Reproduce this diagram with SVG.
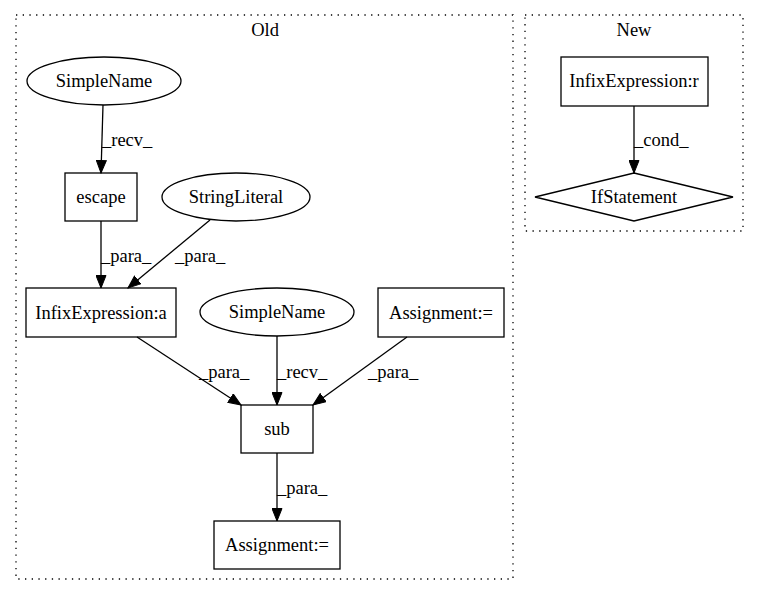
<svg xmlns="http://www.w3.org/2000/svg" width="760" height="596" viewBox="0 0 760 596">
<style>
text{font-family:"Liberation Serif","Times New Roman",serif;font-size:18.5px;fill:#000;text-anchor:middle}
.n{fill:none;stroke:#000;stroke-width:1.3}
.c{fill:none;stroke:#000;stroke-width:1.3;stroke-dasharray:1.3,5.4}
.e{fill:none;stroke:#000;stroke-width:1.3}
.el{text-anchor:start}
</style>
<defs>
<marker id="a" markerWidth="14" markerHeight="11" refX="13" refY="5.5" orient="auto" markerUnits="userSpaceOnUse">
<path d="M0.5,0.5 L13,5.5 L0.5,10.5 z" fill="#000" stroke="#000"/>
</marker>
</defs>
<rect width="760" height="596" fill="#fff"/>
<g id="cluster_old">
<rect class="c" x="16" y="15" width="497" height="564"/>
<text x="265" y="36">Old</text>
</g>
<g id="cluster_new">
<rect class="c" x="525" y="15" width="218" height="216"/>
<text x="634" y="36">New</text>
</g>
<g id="edges">
<path class="e" d="M103,105 L101,173" marker-end="url(#a)"/>
<text class="el" x="102" y="146">_recv_</text>
<path class="e" d="M101,221 L101,288" marker-end="url(#a)"/>
<text class="el" x="101" y="262">_para_</text>
<path class="e" d="M210,220 L128,288" marker-end="url(#a)"/>
<text class="el" x="175" y="262">_para_</text>
<path class="e" d="M137,337 L241,405" marker-end="url(#a)"/>
<text class="el" x="199" y="378">_para_</text>
<path class="e" d="M277,336 L277,405" marker-end="url(#a)"/>
<text class="el" x="277" y="378">_recv_</text>
<path class="e" d="M407,337 L313,405" marker-end="url(#a)"/>
<text class="el" x="368" y="378">_para_</text>
<path class="e" d="M277,453 L277,521" marker-end="url(#a)"/>
<text class="el" x="277" y="494">_para_</text>
<path class="e" d="M634,106 L634,173" marker-end="url(#a)"/>
<text class="el" x="634" y="146">_cond_</text>
</g>
<g id="simplename1"><ellipse class="n" cx="104" cy="81" rx="77" ry="24"/><text x="104" y="87">SimpleName</text></g>
<g id="escape"><rect class="n" x="65" y="173" width="72" height="48"/><text x="101" y="203">escape</text></g>
<g id="stringliteral"><ellipse class="n" cx="236" cy="197" rx="74" ry="24"/><text x="236" y="203">StringLiteral</text></g>
<g id="infix_a"><rect class="n" x="26" y="288" width="150" height="49"/><text x="101" y="319">InfixExpression:a</text></g>
<g id="simplename2"><ellipse class="n" cx="277" cy="312" rx="77" ry="24"/><text x="277" y="318">SimpleName</text></g>
<g id="assign_top"><rect class="n" x="378" y="288" width="126" height="49"/><text x="441" y="319">Assignment:=</text></g>
<g id="sub"><rect class="n" x="241" y="405" width="72" height="48"/><text x="277" y="435">sub</text></g>
<g id="assign_bottom"><rect class="n" x="214" y="521" width="126" height="48"/><text x="277" y="551">Assignment:=</text></g>
<g id="infix_r"><rect class="n" x="561" y="57" width="147" height="49"/><text x="634" y="87">InfixExpression:r</text></g>
<g id="ifstatement"><polygon class="n" points="634,173 733,197 634,221 535,197"/><text x="634" y="203">IfStatement</text></g>
</svg>
